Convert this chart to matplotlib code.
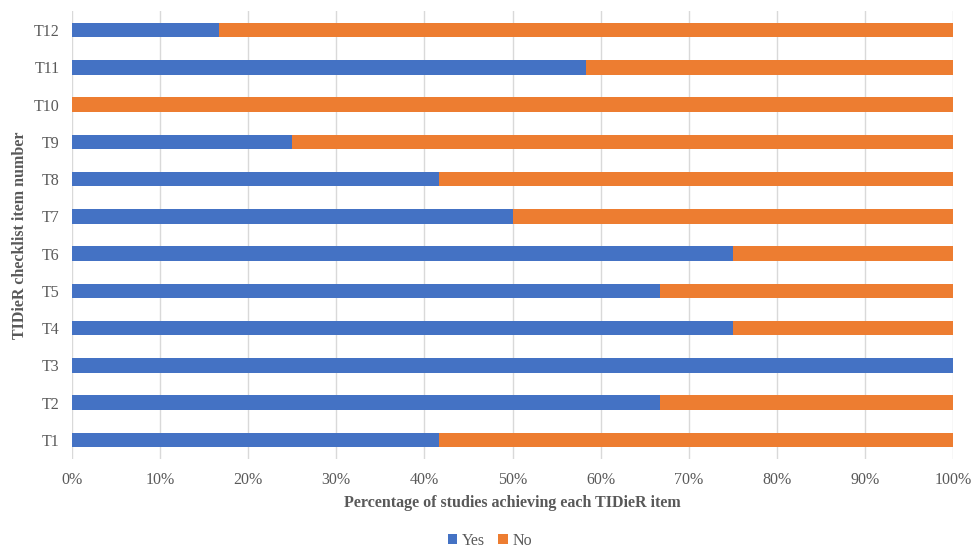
import matplotlib.pyplot as plt
from matplotlib.ticker import PercentFormatter

items = ["T1", "T2", "T3", "T4", "T5", "T6", "T7", "T8", "T9", "T10", "T11", "T12"]
yes_pct = [41.7, 66.7, 100.0, 75.0, 66.7, 75.0, 50.0, 41.7, 25.0, 0.0, 58.3, 16.7]
no_pct = [58.3, 33.3, 0.0, 25.0, 33.3, 25.0, 50.0, 58.3, 75.0, 100.0, 41.7, 83.3]

plt.rcParams["font.family"] = ["Liberation Serif", "DejaVu Serif"]
text_col = "#595959"

fig = plt.figure(figsize=(9.8, 5.5), dpi=100)
ax = fig.add_axes([72 / 980, 1 - 458.6 / 550, (953 - 72) / 980, (458.6 - 11.4) / 550])

ax.barh(items, yes_pct, height=0.39, color="#4472C4", label="Yes", zorder=3)
ax.barh(items, no_pct, left=yes_pct, height=0.39, color="#ED7D31", label="No", zorder=3)

ax.set_xlim(0, 100)
ax.set_ylim(-0.5, len(items) - 0.5)
ax.set_xticks(range(0, 101, 10))
ax.xaxis.set_major_formatter(PercentFormatter(decimals=0))
ax.grid(axis="x", color="#d9d9d9", linewidth=1, zorder=0)
for s in ax.spines.values():
    s.set_visible(False)
ax.tick_params(length=0, labelsize=11.5, labelcolor=text_col)
ax.tick_params(axis="x", pad=10)
ax.tick_params(axis="y", pad=9)

ax.set_xlabel("Percentage of studies achieving each TIDieR item", fontsize=11.5,
              fontweight="bold", color=text_col, labelpad=5)
ax.set_ylabel("TIDieR checklist item number", fontsize=11.5,
              fontweight="bold", color=text_col, labelpad=4)

leg = fig.legend(loc="center", bbox_to_anchor=(0.5, 1 - 541 / 550), ncol=2, frameon=False,
                 fontsize=11.5, handlelength=0.6, handleheight=0.6, handletextpad=0.3,
                 columnspacing=0.8)
for t in leg.get_texts():
    t.set_color(text_col)

fig.savefig("out.png", dpi=100)
